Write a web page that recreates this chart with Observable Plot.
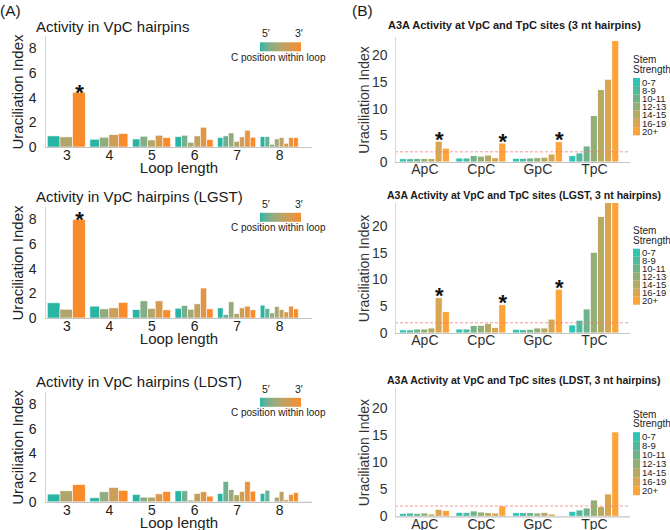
<!DOCTYPE html>
<html><head><meta charset="utf-8">
<script src="https://cdn.jsdelivr.net/npm/d3@7"></script>
<script src="https://cdn.jsdelivr.net/npm/@observablehq/plot@0.6"></script>
<style>
body{margin:0;background:#fff;}
#root{position:relative;width:670px;height:530px;overflow:hidden;background:#fff;}
#root > svg{position:absolute;}
</style></head>
<body><div id="root"></div>
<script>
// ---------- data ----------
const loopLengths = [3, 4, 5, 6, 7, 8];
// Uraciliation index per C position (5' -> 3') for each loop length
const vpcAll = [
  [0.90, 0.82, 4.44],
  [0.63, 0.79, 1.00, 1.09],
  [0.65, 0.87, 0.57, 0.95, 0.76],
  [0.84, 0.95, 0.38, 0.90, 1.60, 0.60],
  [0.76, 0.90, 1.14, 0.46, 0.82, 1.36, 0.79],
  [0.84, 0.84, 0.22, 0.65, 0.76, 0.30, 0.76, 0.76]
];
const vpcLGST = [
  [1.23, 0.71, 8.00],
  [0.96, 0.74, 0.82, 1.26],
  [0.68, 1.39, 0.77, 1.39, 0.66],
  [0.79, 1.01, 0.71, 1.15, 2.43, 0.74],
  [0.82, 0.27, 1.31, 0.36, 0.82, 0.96, 0.66],
  [1.04, 0.77, 0.41, 0.93, 0.68, 0.49, 0.96, 0.74]
];
const vpcLDST = [
  [0.63, 0.90, 1.41],
  [0.33, 0.82, 1.17, 0.93],
  [0.60, 0.38, 0.38, 0.65, 0.84],
  [0.90, 0.90, 0.14, 0.68, 0.82, 0.46],
  [0.68, 1.66, 1.00, 0.57, 0.84, 1.66, 0.87],
  [0.68, 0.95, null, 0.38, 0.84, 0.16, 0.60, 0.76]
];
const vpcAllStars = [[3, 3]];   // [loop length, C position]
const vpcLGSTStars = [[3, 3]];
const vpcLDSTStars = [];

const dinucs = ["ApC", "CpC", "GpC", "TpC"];
const stemStrength = ["0-7", "8-9", "10-11", "12-13", "14-15", "16-19", "20+"];
const a3a3nt = [
  [0.62, 0.62, 0.65, 0.65, 0.65, 3.90, 2.60],
  [0.75, 0.75, 1.20, 1.10, 1.30, 0.80, 3.55],
  [0.70, 0.70, 0.75, 0.80, 0.90, 1.50, 3.80],
  [1.20, 1.70, 3.00, 8.70, 13.55, 15.50, 22.75]
];
const a3aLGST = [
  [0.60, 0.60, 0.75, 0.75, 0.95, 6.60, 4.00],
  [0.75, 0.75, 1.40, 1.45, 1.80, 1.05, 5.30],
  [0.70, 0.63, 0.70, 0.94, 0.94, 2.60, 8.20],
  [1.50, 2.40, 4.50, 15.10, 21.80, 25.50, 25.50]
];
const a3aLDST = [
  [0.56, 0.62, 0.56, 0.62, 0.43, 1.30, 1.10],
  [0.74, 0.74, 1.00, 0.80, 0.68, 0.62, 1.92],
  [0.68, 0.68, 0.68, 0.62, 0.74, 0.43, null],
  [0.93, 1.18, 1.55, 3.03, 1.80, 4.15, 15.67]
];
const a3a3ntStars = [["ApC", "16-19"], ["CpC", "20+"], ["GpC", "20+"]];
const a3aLGSTStars = [["ApC", "16-19"], ["CpC", "20+"], ["GpC", "20+"]];
const a3aLDSTStars = [];
const threshold = 2;

const loopColorEnds = ["#28b5a4", "#f98b2b"];
const stemColors = ["#30c4b5", "#4fbaa0", "#70b38b", "#93ae76", "#b6aa62", "#d8a652", "#fca33a"];

const FONT = '"Liberation Sans", Arial, Helvetica, sans-serif';
const root = document.getElementById("root");

// ---------- panel A ----------
function loopRows(vals) {
  const rows = [];
  vals.forEach((g, gi) => {
    const n = g.length, w = 0.892 / n, L = loopLengths[gi];
    g.forEach((v, pi) => {
      if (v == null) return;
      rows.push({L, pos: pi + 1, x1: L - 0.446 + pi * w, x2: L - 0.446 + (pi + 1) * w, v, t: n > 1 ? pi / (n - 1) : 0});
    });
  });
  return rows;
}
function drawA(vals, stars, top, bottom) {
  const rows = loopRows(vals);
  const starRows = stars.map(([L, p]) => rows.find(r => r.L === L && r.pos === p));
  const mt = 6, mb = 34;
  const svg = Plot.plot({
    width: 335, height: mt + (bottom - top) + mb,
    marginTop: mt, marginBottom: mb, marginLeft: 45, marginRight: 23,
    style: {fontFamily: FONT, color: "#222", background: "transparent", overflow: "visible"},
    x: {domain: [2.5, 8.77], axis: null},
    y: {domain: [0, 9], axis: null},
    color: {type: "linear", domain: [0, 1], range: loopColorEnds, interpolate: "lab"},
    marks: [
      Plot.rectY(rows, {x1: "x1", x2: "x2", y1: 0, y2: "v", fill: "t", stroke: "#fff", strokeWidth: 0.7, strokeOpacity: 0.8}),
      Plot.ruleY([0], {stroke: "#c4c4c4", strokeWidth: 1.2}),
      Plot.ruleX([2.5], {stroke: "#d4d4d4"}),
      Plot.axisY({ticks: [0, 2, 4, 6, 8], tickSize: 0, tickPadding: 9, fontSize: 14, label: null}),
      Plot.axisX({ticks: loopLengths, tickFormat: d => String(d), tickSize: 0, tickPadding: 3, fontSize: 14, label: null}),
      Plot.text(["Uraciliation Index"], {frameAnchor: "left", textAnchor: "middle", lineAnchor: "middle", rotate: -90, dx: -27, fontSize: 15}),
      Plot.text(["Loop length"], {frameAnchor: "bottom", textAnchor: "middle", lineAnchor: "middle", dy: 21, fontSize: 15}),
      Plot.text(starRows, {x: d => (d.x1 + d.x2) / 2, y: "v", text: () => "*", lineAnchor: "bottom", dy: 7, fontSize: 22, fontWeight: "bold", fill: "#111"})
    ]
  });
  svg.style.left = "0px";
  svg.style.top = (top - mt) + "px";
  root.appendChild(svg);
}

// ---------- panel B ----------
function stemRows(vals) {
  const rows = [];
  const n = stemStrength.length, w = 0.885 / n;
  vals.forEach((g, di) => {
    g.forEach((v, si) => {
      if (v == null) return;
      rows.push({d: dinucs[di], stem: stemStrength[si], x1: di - 0.4425 + si * w, x2: di - 0.4425 + (si + 1) * w, v});
    });
  });
  return rows;
}
function drawB(vals, stars, top, bottom, ymax) {
  const rows = stemRows(vals);
  const starRows = stars.map(([d, s]) => rows.find(r => r.d === d && r.stem === s));
  const mt = 4, mb = 24;
  const svg = Plot.plot({
    width: 335, height: mt + (bottom - top) + mb,
    marginTop: mt, marginBottom: mb, marginLeft: 60, marginRight: 40,
    style: {fontFamily: FONT, color: "#333", background: "transparent", overflow: "visible"},
    x: {domain: [-0.52, 3.64], axis: null},
    y: {domain: [0, ymax], axis: null},
    color: {domain: stemStrength, range: stemColors},
    marks: [
      Plot.rectY(rows, {x1: "x1", x2: "x2", y1: 0, y2: "v", fill: "stem", stroke: "#fff", strokeWidth: 0.9, clip: true}),
      Plot.ruleY([threshold], {stroke: "#f08080", strokeOpacity: 0.8, strokeDasharray: "3,2", strokeWidth: 1}),
      Plot.ruleY([0], {stroke: "#c4c4c4", strokeWidth: 1.2}),
      Plot.ruleX([-0.52], {stroke: "#d8d8d8"}),
      Plot.axisY({ticks: [0, 5, 10, 15, 20], tickSize: 0, tickPadding: 8, fontSize: 14, label: null}),
      Plot.axisX({ticks: [0, 1, 2, 3], tickFormat: i => dinucs[i], tickSize: 0, tickPadding: 2, fontSize: 14, label: null}),
      Plot.text(["Uraciliation Index"], {frameAnchor: "left", textAnchor: "middle", lineAnchor: "middle", rotate: -90, dx: -31, fontSize: 14}),
      Plot.text(starRows, {x: d => (d.x1 + d.x2) / 2, y: "v", text: () => "*", lineAnchor: "bottom", dy: 5, fontSize: 22, fontWeight: "bold", fill: "#111"})
    ]
  });
  svg.style.left = "335px";
  svg.style.top = (top - mt) + "px";
  root.appendChild(svg);
}

drawA(vpcAll, vpcAllStars, 36, 147);
drawA(vpcLGST, vpcLGSTStars, 206.7, 317.7);
drawA(vpcLDST, vpcLDSTStars, 391.7, 501.5);
drawB(a3a3nt, a3a3ntStars, 36.7, 161.7, 23.4);
drawB(a3aLGST, a3aLGSTStars, 202.7, 332.7, 24.3);
drawB(a3aLDST, a3aLDSTStars, 387.7, 516, 23.8);

// ---------- titles & legends overlay ----------
const ov = d3.select(root).append("svg").attr("width", 670).attr("height", 530)
  .style("left", "0px").style("top", "0px").style("font-family", FONT);
const txt = (x, y, s, size, opts = {}) => ov.append("text").attr("x", x).attr("y", y)
  .attr("dominant-baseline", "central").attr("font-size", size).attr("fill", opts.fill || "#1a1a1a")
  .attr("font-weight", opts.weight || "normal").attr("text-anchor", opts.anchor || "start").text(s);

txt(0, 10, "(A)", 15.5);
txt(352, 10, "(B)", 15.5);
txt(36, 26, "Activity in VpC hairpins", 15);
txt(36, 196, "Activity in VpC hairpins (LGST)", 15);
txt(36, 381.5, "Activity in VpC hairpins (LDST)", 15);
txt(388, 25, "A3A Activity at VpC and TpC sites (3 nt hairpins)", 11, {weight: "bold"});
txt(387, 195, "A3A Activity at VpC and TpC sites (LGST, 3 nt hairpins)", 10.5, {weight: "bold"});
txt(387, 380, "A3A Activity at VpC and TpC sites (LDST, 3 nt hairpins)", 10.5, {weight: "bold"});

// gradient legend (A)
const grad = ov.append("defs").append("linearGradient").attr("id", "cgrad");
const ci = d3.interpolateLab(loopColorEnds[0], loopColorEnds[1]);
d3.range(0, 1.0001, 0.1).forEach(t => grad.append("stop").attr("offset", t).attr("stop-color", ci(t)));
[0, 170.5, 355.5].forEach(off => {
  txt(262, 33 + off, "5\u2032", 10.5);
  txt(295, 33 + off, "3\u2032", 10.5);
  ov.append("rect").attr("x", 260).attr("y", 42.3 + off).attr("width", 41).attr("height", 9).attr("fill", "url(#cgrad)");
  txt(231, 57 + off, "C position within loop", 10);
});

// stem strength legend (B)
[[59, 69, 82, 8.2], [230, 240, 252.7, 8.0], [414, 423.5, 436.7, 9.0]].forEach(([s1, s2, r0, dr]) => {
  txt(633, s1, "Stem", 10, {fill: "#222"});
  txt(633, s2, "Strength", 10, {fill: "#222"});
  stemStrength.forEach((s, i) => {
    ov.append("rect").attr("x", 633).attr("y", r0 + i * dr - dr / 2).attr("width", 7).attr("height", dr).attr("fill", stemColors[i]);
    txt(642, r0 + i * dr, s, 9.5, {fill: "#222"});
  });
});
</script>
</body></html>
